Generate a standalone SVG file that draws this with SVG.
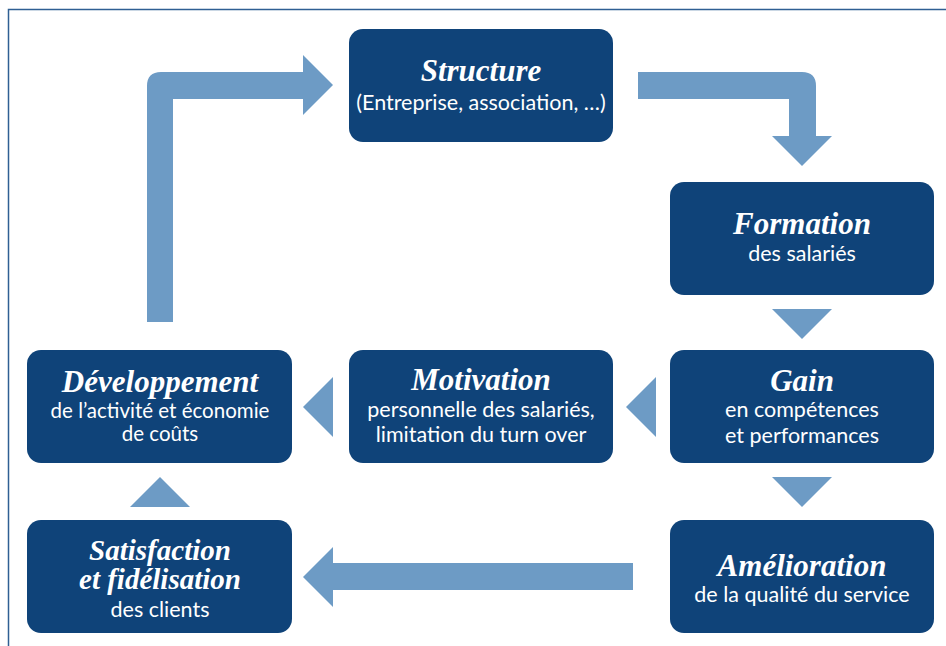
<svg xmlns="http://www.w3.org/2000/svg" width="946" height="646" viewBox="0 0 946 646">
<style>
.node{fill:#0f4379}
.arrow{fill:#6d9bc5}
.t{font-family:"Liberation Serif",serif;font-weight:bold;font-style:italic;font-size:31px;fill:#fff;text-anchor:middle}
.s{font-family:Lato,"Liberation Sans",sans-serif;font-size:21.5px;fill:#fff;text-anchor:middle}
.frame{stroke:#2f5f93;stroke-width:1.5;fill:none}
</style>
<rect width="946" height="646" fill="#fff"/>
<path class="frame" d="M8.5 646 V9.5 H946"/>
<g id="connectors">
<path class="arrow" d="M147 322 V86 Q147 72 161 72 H303 V55 L333 85 L303 115 V99 H173 V322 Z"/>
<path class="arrow" d="M638 72 H802 Q816 72 816 86 V136 H832 L802 166 L772 136 H789 V99 H638 Z"/>
<polygon class="arrow" points="772,309 832,309 802,339"/>
<polygon class="arrow" points="772,477 832,477 802,507"/>
<polygon class="arrow" points="656,377 656,437 626,407"/>
<polygon class="arrow" points="333,377 333,437 303,407"/>
<polygon class="arrow" points="130,507 190,507 160,477"/>
<path class="arrow" d="M633 563 V590 H333 V607 L303 577 L333 547 V563 Z"/>
</g>
<g id="structure">
<rect class="node" x="349" y="29" width="264" height="113" rx="14"/>
<text class="t" x="481" y="81">Structure</text>
<text class="s" x="481" y="110">(Entreprise, association, …)</text>
</g>
<g id="formation">
<rect class="node" x="670" y="182" width="264" height="113" rx="14"/>
<text class="t" x="802" y="234">Formation</text>
<text class="s" x="802" y="261">des salariés</text>
</g>
<g id="gain">
<rect class="node" x="670" y="350" width="264" height="113" rx="14"/>
<text class="t" x="802" y="391">Gain</text>
<text class="s" x="802" y="417">en compétences</text>
<text class="s" x="802" y="443">et performances</text>
</g>
<g id="amelioration">
<rect class="node" x="670" y="520" width="264" height="113" rx="14"/>
<text class="t" x="802" y="576">Amélioration</text>
<text class="s" x="802" y="602">de la qualité du service</text>
</g>
<g id="motivation">
<rect class="node" x="349" y="350" width="264" height="113" rx="14"/>
<text class="t" x="481" y="390">Motivation</text>
<text class="s" x="481" y="417">personnelle des salariés,</text>
<text class="s" x="481" y="442">limitation du turn over</text>
</g>
<g id="developpement">
<rect class="node" x="27" y="350" width="265" height="113" rx="14"/>
<text class="t" x="160" y="392">Développement</text>
<text class="s" x="160" y="418" style="font-size:20.5px">de l’activité et économie</text>
<text class="s" x="160" y="441" style="font-size:20.5px">de coûts</text>
</g>
<g id="satisfaction">
<rect class="node" x="27" y="520" width="265" height="113" rx="14"/>
<text class="t" x="160" y="560" style="font-size:29px">Satisfaction</text>
<text class="t" x="160" y="589" style="font-size:29px">et fidélisation</text>
<text class="s" x="160" y="617">des clients</text>
</g>
</svg>
